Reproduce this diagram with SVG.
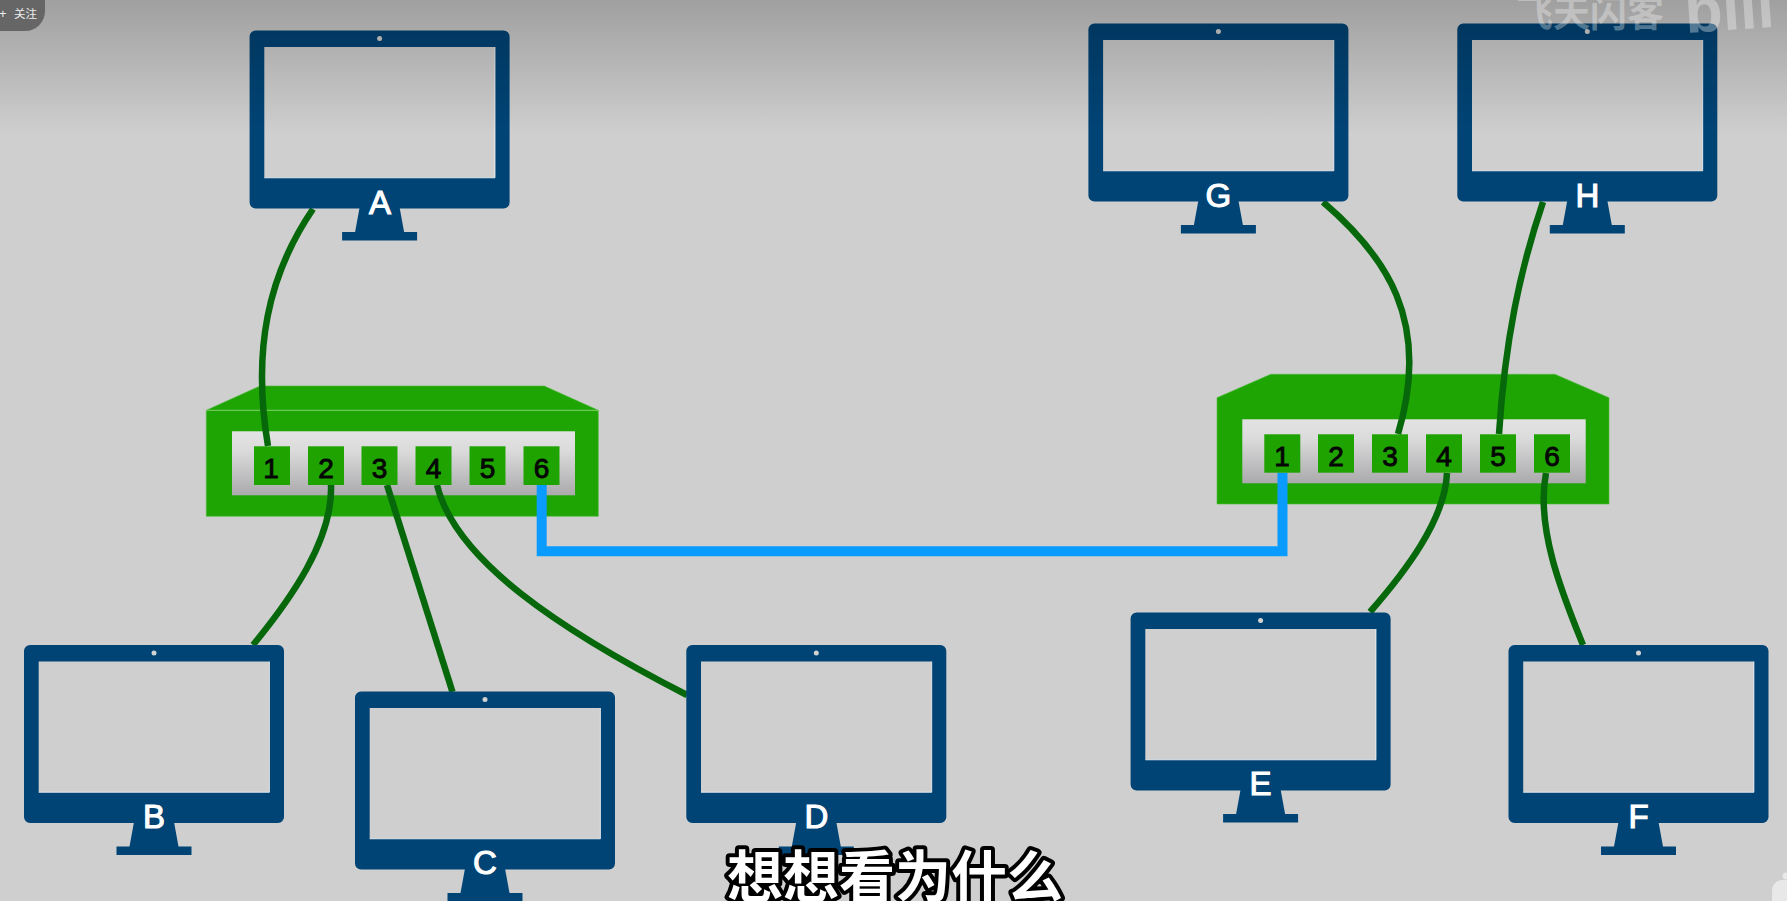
<svg xmlns="http://www.w3.org/2000/svg" xmlns:xlink="http://www.w3.org/1999/xlink" width="1787" height="901" viewBox="0 0 1787 901">
<style>
.lbl{font-family:"Liberation Sans",Arial,sans-serif;font-size:33px;fill:#fff;text-anchor:middle;stroke:#fff;stroke-width:1.1}
.num{font-family:"Liberation Sans",Arial,sans-serif;font-size:28px;fill:#050505;text-anchor:middle;stroke:#050505;stroke-width:.9}
.port{fill:#1fa300}
.panel{fill:url(#panelGrad)}
.body{fill:#1ea504;stroke:#4dbb3a;stroke-width:.6}
.wire{fill:none;stroke:#06680a;stroke-width:6.500}
.trunk{fill:none;stroke:#0a9bff;stroke-width:10}
.cjk{font-family:"Noto Sans CJK SC","Noto Sans",sans-serif}
</style>
<defs>
<linearGradient id="panelGrad" x1="0" y1="0" x2="0" y2="1"><stop offset="0" stop-color="#e4e3e4"/><stop offset=".3" stop-color="#dcdbdc"/><stop offset="1" stop-color="#aaa9ab"/></linearGradient>
<linearGradient id="shade" x1="0" y1="0" x2="0" y2="1"><stop offset="0" stop-color="#000" stop-opacity=".23"/><stop offset="1" stop-color="#000" stop-opacity="0"/></linearGradient>
<g id="monitor">
<path fill="#004476" fill-rule="evenodd" d="M6 0H254a6 6 0 0 1 6 6V172a6 6 0 0 1-6 6H6a6 6 0 0 1-6-6V6a6 6 0 0 1 6-6ZM14.700 16.500V147.300H245.400V16.500Z"/>
<path fill="#004476" d="M110 177H150L154.500 201.500H167.500V210H92.500V201.500H105.500Z"/>
<path fill="none" stroke="#fff" stroke-opacity=".75" stroke-width="1" d="M245.400 16.500V147.300H14.700"/>
<circle cx="130" cy="8" r="2.500" fill="#d2d2d2"/>
</g>
</defs>
<rect width="1787" height="901" fill="#cfcfcf"/>

<g id="switch-left">
<path class="body" d="M260 386H544.300L598.300 410.300V516.300H206.300V410.300Z"/>
<path fill="none" stroke="#7fd06c" stroke-width="1" d="M206.300 410.300H598.300"/>
<rect class="panel" x="232" y="431.300" width="343" height="64"/>
</g>
<g id="switch-right">
<path class="body" d="M1270.700 374.300H1555L1609 397.700V504H1217V397.700Z"/>
<rect class="panel" x="1242.300" y="419.300" width="343.400" height="64"/>
</g>

<g id="connectors">
<path class="wire" d="M313 209C268 275 252 350 268 446"/>
<path class="wire" d="M331 485C333 540 290 600 253 645"/>
<path class="wire" d="M387 485L452.500 692"/>
<path class="wire" d="M437 485C455 560 560 630 687 695"/>
<path class="wire" d="M1323 202C1385 255 1432 320 1398 434"/>
<path class="wire" d="M1543 202C1520 270 1505 340 1499 434"/>
<path class="wire" d="M1447 473C1445 520 1405 572 1370 612"/>
<path class="wire" d="M1546 473C1535 530 1565 600 1583 645"/>
<path class="trunk" d="M541.700 485V551.300H1282.500V472.700"/>
</g>

<g id="ports-left">
<rect class="port" x="254" y="446.300" width="36" height="38.700"/><text class="num" x="271" y="477.700">1</text>
<rect class="port" x="308" y="446.300" width="36" height="38.700"/><text class="num" x="326" y="477.700">2</text>
<rect class="port" x="361.500" y="446.300" width="36" height="38.700"/><text class="num" x="379.500" y="477.700">3</text>
<rect class="port" x="415.500" y="446.300" width="36" height="38.700"/><text class="num" x="433.500" y="477.700">4</text>
<rect class="port" x="469.500" y="446.300" width="36" height="38.700"/><text class="num" x="487.500" y="477.700">5</text>
<rect class="port" x="523.500" y="446.300" width="36" height="38.700"/><text class="num" x="541.500" y="477.700">6</text>
</g>
<g id="ports-right">
<rect class="port" x="1264.300" y="434.300" width="36" height="38.400"/><text class="num" x="1282" y="465.700">1</text>
<rect class="port" x="1318" y="434.300" width="36" height="38.400"/><text class="num" x="1336" y="465.700">2</text>
<rect class="port" x="1372" y="434.300" width="36" height="38.400"/><text class="num" x="1390" y="465.700">3</text>
<rect class="port" x="1426" y="434.300" width="36" height="38.400"/><text class="num" x="1444" y="465.700">4</text>
<rect class="port" x="1480" y="434.300" width="36" height="38.400"/><text class="num" x="1498" y="465.700">5</text>
<rect class="port" x="1534" y="434.300" width="36" height="38.400"/><text class="num" x="1552" y="465.700">6</text>
</g>

<g id="pc-a"><use href="#monitor" x="249.600" y="30.500"/><text class="lbl" x="380" y="214">A</text></g>
<g id="pc-b"><use href="#monitor" x="24" y="645"/><text class="lbl" x="154" y="828">B</text></g>
<g id="pc-c"><use href="#monitor" x="355" y="691.500"/><text class="lbl" x="485" y="874">C</text></g>
<g id="pc-d"><use href="#monitor" x="686.300" y="645"/><text class="lbl" x="816.300" y="828">D</text></g>
<g id="pc-e"><use href="#monitor" x="1130.600" y="612.500"/><text class="lbl" x="1260.600" y="795">E</text></g>
<g id="pc-f"><use href="#monitor" x="1508.500" y="645"/><text class="lbl" x="1638.500" y="828">F</text></g>
<g id="pc-g"><use href="#monitor" x="1088.400" y="23.500"/><text class="lbl" x="1218.400" y="207">G</text></g>
<g id="pc-h"><use href="#monitor" x="1457.300" y="23.500"/><text class="lbl" x="1587.300" y="207">H</text></g>

<rect width="1787" height="135" fill="url(#shade)"/>

<g id="overlay">
<path fill="#666" d="M0 0H45V11A20 20 0 0 1 25 31H0Z"/>
<text x="-1" y="18" font-family="Liberation Sans, sans-serif" font-size="13" fill="#eee">+</text>
<text class="cjk" x="14" y="18" font-size="11.500" fill="#eee">关注</text>
<text class="cjk" x="1516" y="27" font-size="37" font-weight="700" fill="#fff" fill-opacity=".33">飞天闪客</text>
<text x="1686" y="33" font-family="Liberation Sans, sans-serif" font-weight="700" font-size="62" fill="#fff" fill-opacity=".33" transform="rotate(-4 1686 33)">bili</text>
<circle cx="1786" cy="876" r="3.500" fill="#e8e8e8"/>
<path fill="#e8e8e8" d="M1772 901V892Q1772 881 1782 880H1787V901Z"/>
<text class="cjk" x="727" y="897" font-size="56" font-weight="700" fill="#fff" stroke="#000" stroke-width="8" stroke-linejoin="round" paint-order="stroke">想想看为什么</text>
</g>
</svg>
